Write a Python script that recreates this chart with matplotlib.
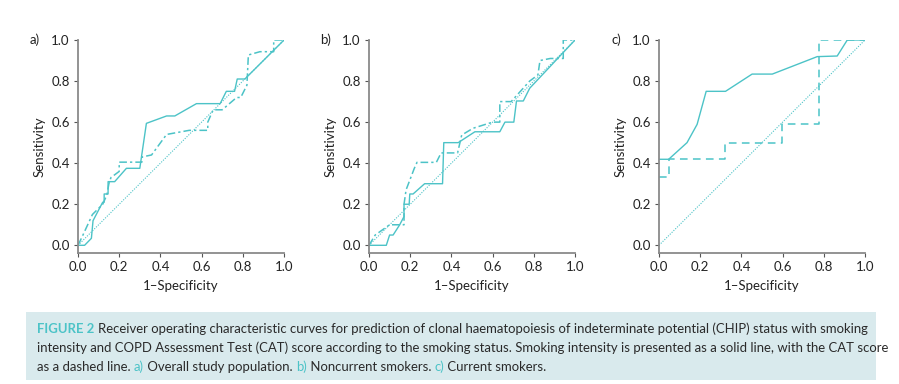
import matplotlib
matplotlib.use('Agg')
from matplotlib import pyplot as plt
from matplotlib.patches import Rectangle

# ROC data (1-specificity, sensitivity)
a_smoke_x = [0, 0.032, 0.065, 0.073, 0.12, 0.127, 0.127, 0.146, 0.146, 0.178, 0.235, 0.30, 0.332, 0.43, 0.47, 0.575, 0.69, 0.72, 0.76, 0.773, 0.81, 1.0]
a_smoke_y = [0, 0, 0.034, 0.12, 0.21, 0.21, 0.25, 0.25, 0.31, 0.31, 0.375, 0.375, 0.594, 0.63, 0.63, 0.69, 0.69, 0.75, 0.75, 0.81, 0.81, 1.0]
a_cat_x = [0, 0.024, 0.07, 0.12, 0.14, 0.15, 0.16, 0.2, 0.2, 0.31, 0.31, 0.357, 0.43, 0.54, 0.63, 0.63, 0.656, 0.70, 0.77, 0.79, 0.82, 0.827, 0.883, 0.95, 0.95, 1.0]
a_cat_y = [0, 0.05, 0.15, 0.2, 0.245, 0.3, 0.33, 0.36, 0.405, 0.405, 0.43, 0.44, 0.54, 0.56, 0.56, 0.6, 0.66, 0.66, 0.72, 0.72, 0.78, 0.927, 0.943, 0.943, 1.0, 1.0]

b_smoke_x = [0, 0.084, 0.10, 0.117, 0.149, 0.17, 0.17, 0.195, 0.198, 0.214, 0.27, 0.357, 0.363, 0.433, 0.514, 0.635, 0.66, 0.703, 0.716, 0.749, 0.78, 1.0]
b_smoke_y = [0, 0, 0.05, 0.05, 0.10, 0.14, 0.20, 0.20, 0.25, 0.25, 0.30, 0.30, 0.50, 0.50, 0.553, 0.553, 0.60, 0.60, 0.703, 0.703, 0.765, 1.0]
b_cat_x = [0, 0.03, 0.1, 0.17, 0.17, 0.18, 0.22, 0.233, 0.327, 0.35, 0.43, 0.45, 0.505, 0.6, 0.635, 0.635, 0.69, 0.78, 0.82, 0.83, 0.88, 0.943, 0.943, 1.0]
b_cat_y = [0, 0.05, 0.1, 0.1, 0.2, 0.27, 0.375, 0.404, 0.404, 0.45, 0.45, 0.537, 0.57, 0.6, 0.6, 0.70, 0.70, 0.8, 0.83, 0.90, 0.91, 0.91, 1.0, 1.0]

c_smoke_x = [0, 0.047, 0.136, 0.185, 0.229, 0.323, 0.452, 0.55, 0.768, 0.865, 0.914, 1.0]
c_smoke_y = [0.419, 0.419, 0.50, 0.589, 0.75, 0.75, 0.834, 0.834, 0.919, 0.922, 1.0, 1.0]
c_cat_x = [0, 0.047, 0.047, 0.318, 0.318, 0.595, 0.595, 0.776, 0.776, 1.0]
c_cat_y = [0.331, 0.331, 0.419, 0.419, 0.5, 0.5, 0.589, 0.589, 1.0, 1.0]

panel_labels = ['a)', 'b)', 'c)']
ticks = [0.0, 0.2, 0.4, 0.6, 0.8, 1.0]

teal = '#4cc3c7'
plt.rcParams['font.family'] = ['Lato', 'DejaVu Sans']

fig = plt.figure(figsize=(8.99, 3.84), dpi=100)

lefts = [78, 369, 659]
panels = [
    (a_smoke_x, a_smoke_y, a_cat_x, a_cat_y, (0, (5, 2, 1.5, 2))),
    (b_smoke_x, b_smoke_y, b_cat_x, b_cat_y, (0, (5, 2, 1.5, 2))),
    (c_smoke_x, c_smoke_y, c_cat_x, c_cat_y, (0, (5, 3.5))),
]

fs = 9.5
for i, (sx, sy, cx, cy, dash) in enumerate(panels):
    ax = fig.add_axes([lefts[i] / 899, 1 - 253 / 384, 206 / 899, 213 / 384])
    ax.plot([0, 1], [0, 1], color=teal, lw=0.8, linestyle=(0, (1, 1.3)))
    ax.plot(sx, sy, color=teal, lw=1.0)
    ax.plot(cx, cy, color=teal, lw=1.1, linestyle=dash)
    ax.set_xlim(0, 1)
    ax.set_ylim(-0.0375, 1.0)
    ax.set_xticks(ticks)
    ax.set_yticks(ticks)
    ax.set_xticklabels(['%.1f' % t for t in ticks])
    ax.set_yticklabels(['%.1f' % t for t in ticks])
    for s in ['top', 'right']:
        ax.spines[s].set_visible(False)
    for s in ['left', 'bottom']:
        ax.spines[s].set_color('#8a8a8a')
        ax.spines[s].set_linewidth(1.3)
    ax.tick_params(length=3, width=0.8, color='#555555', labelsize=fs,
                   labelcolor='#222222', pad=3)
    ax.set_xlabel('1\u2013Specificity', fontsize=fs, color='#222222', labelpad=5)
    ax.set_ylabel('Sensitivity', fontsize=fs, color='#222222', labelpad=4)
    ax.text(-0.185, 1.0, panel_labels[i], transform=ax.transAxes, fontsize=fs,
            color='#222222', ha='right', va='center')

# caption box
fig.patches.append(Rectangle((26 / 899, 0.01), 850 / 899, (384 - 312) / 384 - 0.01,
                             transform=fig.transFigure, facecolor='#d9eaed',
                             edgecolor='none', zorder=0))

renderer = fig.canvas.get_renderer()
dark = '#2a2a2a'
cap_lines = [
    [('FIGURE 2 ', teal, 'bold'),
     ('Receiver operating characteristic curves for prediction of clonal haematopoiesis of indeterminate potential (CHIP) status with smoking', dark, 'normal')],
    [('intensity and COPD Assessment Test (CAT) score according to the smoking status. Smoking intensity is presented as a solid line, with the CAT score', dark, 'normal')],
    [('as a dashed line. ', dark, 'normal'), ('a)', teal, 'normal'),
     (' Overall study population. ', dark, 'normal'), ('b)', teal, 'normal'),
     (' Noncurrent smokers. ', dark, 'normal'), ('c)', teal, 'normal'),
     (' Current smokers.', dark, 'normal')],
]
line_y = [329, 348, 367]
for parts, yy in zip(cap_lines, line_y):
    x = 37
    for txt, col, wt in parts:
        t = fig.text(x / 899, 1 - yy / 384, txt, fontsize=9.45, color=col,
                     fontweight=wt, va='center', ha='left')
        bb = t.get_window_extent(renderer=renderer)
        x += bb.width

fig.savefig('out.png', dpi=100)
